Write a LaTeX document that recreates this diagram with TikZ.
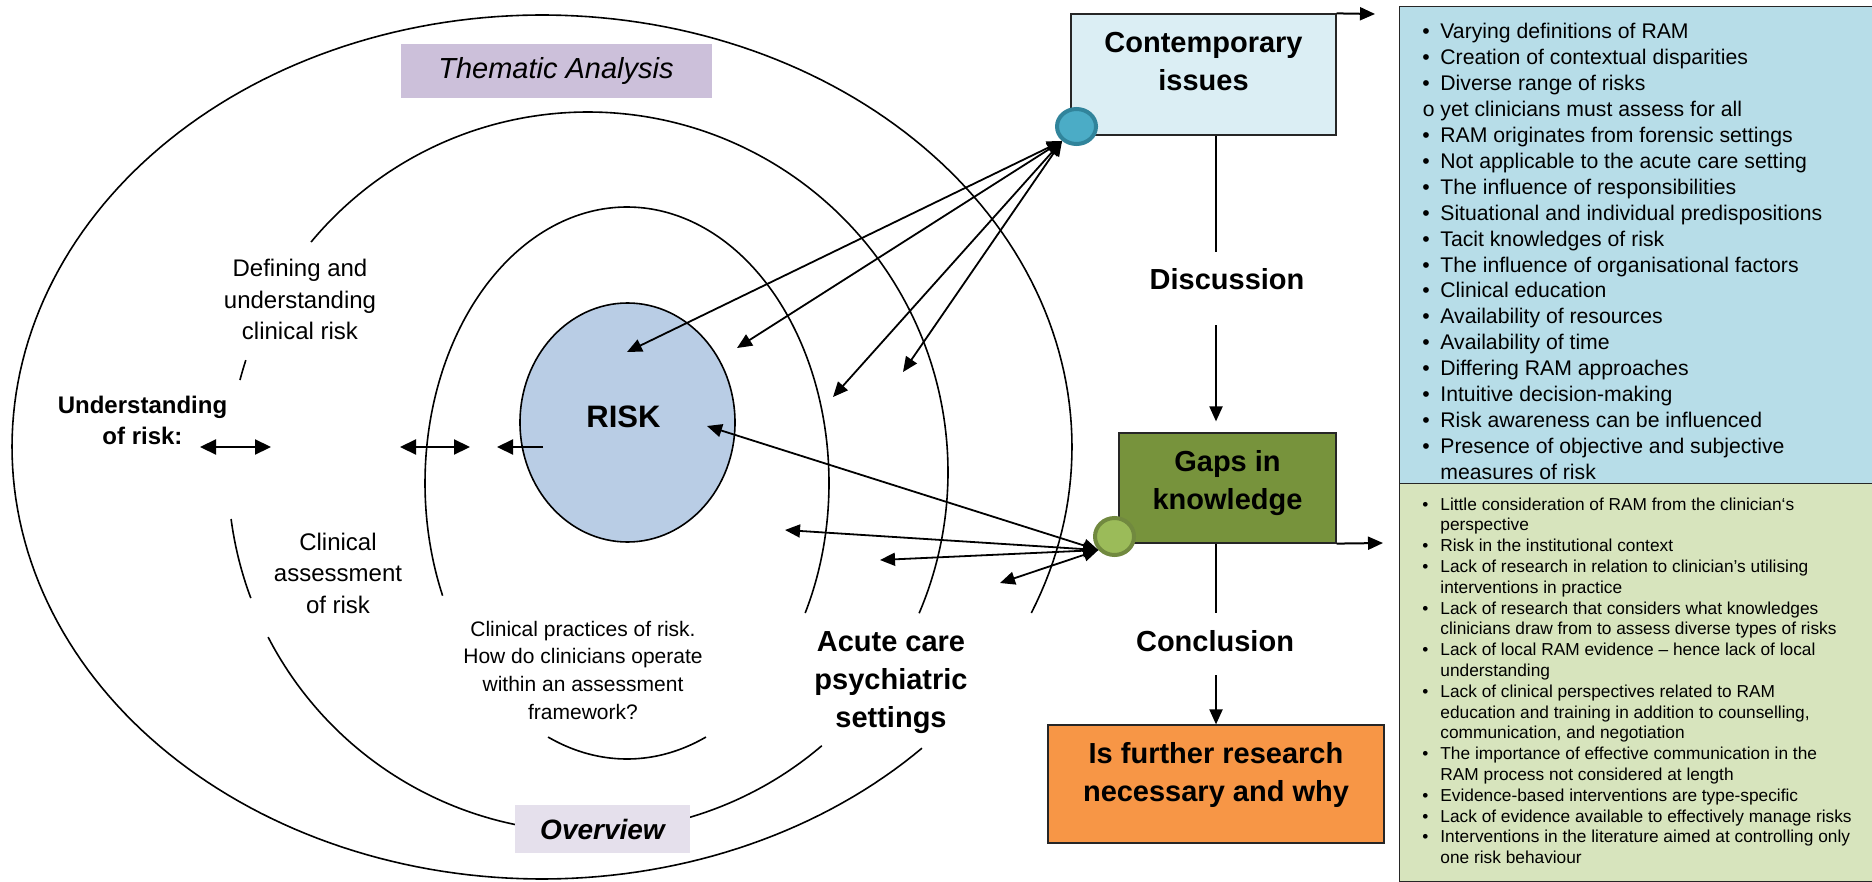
\documentclass[tikz,border=0pt]{standalone}
\usepackage{fontspec}
\setmainfont{Liberation Sans}
\newfontfamily\bulletmono{Liberation Mono}
\usetikzlibrary{arrows.meta,shapes.geometric}

\definecolor{themebg}{HTML}{CCC0DA}
\definecolor{overbg}{HTML}{E5E0EC}
\definecolor{riskfill}{HTML}{B9CDE5}
\definecolor{contbg}{HTML}{DBEEF4}
\definecolor{gapsbg}{HTML}{77933C}
\definecolor{furtherbg}{HTML}{F79646}
\definecolor{listblue}{HTML}{B7DDE8}
\definecolor{listgreen}{HTML}{D7E4BD}
\definecolor{tealfill}{HTML}{4BACC6}
\definecolor{tealline}{HTML}{31849B}
\definecolor{olivefill}{HTML}{9BBB59}
\definecolor{oliveline}{HTML}{71893F}
\definecolor{boxline}{HTML}{262626}

\newcommand{\setfs}[2]{\fontsize{#1}{#2}\selectfont}
\newcommand{\stacklines}[1]{\begin{tabular}[t]{@{}c@{}}#1\end{tabular}}
\newcommand{\leftlines}[1]{\begin{tabular}[t]{@{}l@{}}#1\end{tabular}}
\newcommand{\bitem}[1]{\makebox[9pt][l]{\textbullet}#1}
\newcommand{\bsub}[1]{\makebox[9pt][l]{\bulletmono o}#1}
\newcommand{\bcont}[1]{\hspace*{9pt}#1}

\begin{document}
\begin{tikzpicture}[x=0.5pt,y=-0.5pt,
  ring/.style={line width=0.8pt},
  >={Triangle[length=7.5pt,width=6.5pt]},
  link/.style={line width=0.9pt,<->},
  bigtips/.style={line width=1.1pt,>={Triangle[length=8pt,width=7.5pt]}},
  flow/.style={line width=1pt},
  txt/.style={inner sep=0,outer sep=0,anchor=base},
  plainlbl/.style={txt,font=\setfs{12}{15.75}},
  boldlbl/.style={txt,font=\setfs{14.5}{19}\bfseries},
  flowbox/.style={draw=boxline,line width=0.6pt,inner sep=0},
  dot/.style={ellipse,inner sep=0,line width=2pt},
  listbox/.style={draw=boxline,line width=0.6pt,inner sep=0,anchor=north west}
]
\useasboundingbox (0,0) rectangle (1872,882);
\clip (0,0) rectangle (1872,882);
\fill[white] (0,0) rectangle (1872,882);

% ---- concentric rings ----
% outer ring, opened where the setting label sits
\draw[ring] plot[domain=44.2:382.6,samples=240] ({542+530*cos(\x)},{447+432*sin(\x)});
% middle ring, broken by its labels
\draw[ring] plot[domain=219.7:383.1,samples=200] ({588+360*cos(\x)},{472+360*sin(\x)});
\draw[ring] plot[domain=49.5:152.7,samples=120] ({588+360*cos(\x)},{472+360*sin(\x)});
\draw[ring] plot[domain=159.5:172.5,samples=30] ({588+360*cos(\x)},{472+360*sin(\x)});
\draw[ring] plot[domain=194.8:198.1,samples=10] ({588+360*cos(\x)},{472+360*sin(\x)});
% inner ring
\draw[ring] plot[domain=155.9:388.1,samples=200] ({627+202*cos(\x)},{483+276*sin(\x)});
\draw[ring] plot[domain=67:113,samples=60] ({627+202*cos(\x)},{483+276*sin(\x)});

% ---- title boxes on the rings ----
\node[fill=themebg,minimum width=155.5pt,minimum height=27pt,inner sep=0,
      font=\setfs{14.5}{17}\itshape] (theme) at (556,71) {Thematic Analysis};
\node[fill=overbg,minimum width=87.5pt,minimum height=24pt,inner sep=0,
      font=\setfs{14}{17}\bfseries\itshape] (overview) at (602.5,829) {Overview};

% ---- centre ----
\node[ellipse,draw,fill=riskfill,line width=0.8pt,inner sep=0,
      minimum width=107.5pt,minimum height=119.5pt] (risk) at (627.5,422.5) {};
\node[txt,font=\setfs{15.5}{18}\bfseries] (risktxt) at (623.5,427) {RISK};

% ---- ring labels ----
\node[txt,font=\setfs{12}{15.5}\bfseries] (understand) at (142.5,413)
  {\stacklines{Understanding\\of risk:}};
\node[plainlbl] (defining) at (300,277)
  {\stacklines{Defining and\\understanding\\clinical risk}};
\node[plainlbl] (assess) at (338,550)
  {\stacklines{Clinical\\assessment\\of risk}};
\node[txt,font=\setfs{10.5}{13.85}] (practice) at (583,636)
  {\stacklines{Clinical practices of risk.\\How do clinicians operate\\within an assessment\\framework?}};
\node[boldlbl] (acute) at (891,651)
  {\stacklines{Acute care\\psychiatric\\settings}};

% ---- arrows between the ring labels ----
\coordinate (la1) at (200,447);
\coordinate (la2) at (271,447);
\coordinate (lb1) at (400,447);
\coordinate (lb2) at (470,447);
\coordinate (lc1) at (543,447);
\coordinate (lc2) at (497,447);
\draw[bigtips,<->] (la1) -- (la2);
\draw[bigtips,<->] (lb1) -- (lb2);
\draw[bigtips,->] (lc1) -- (lc2);

% ---- flow column ----
\node[flowbox,fill=contbg,minimum width=132.5pt,minimum height=60.5pt] (cbox) at (1203.5,74.5) {};
\node[boldlbl] (ctxt) at (1203.5,53) {\stacklines{Contemporary\\issues}};
\node[flowbox,fill=gapsbg,minimum width=108.5pt,minimum height=55pt] (gbox) at (1227.5,488) {};
\node[boldlbl] (gtxt) at (1227.5,471) {\stacklines{Gaps in\\knowledge}};
\node[flowbox,fill=furtherbg,minimum width=168pt,minimum height=59pt] (fbox) at (1216,784) {};
\node[boldlbl] (ftxt) at (1216,763) {\stacklines{Is further research\\necessary and why}};
\node[boldlbl] (disc) at (1227,289) {Discussion};
\node[boldlbl] (concl) at (1215,651) {Conclusion};

\coordinate (colx) at (1216,0);
\coordinate (discA) at (1216,252);
\coordinate (discB) at (1216,325);
\coordinate (concA) at (1216,613);
\coordinate (concB) at (1216,675);
\draw[flow] (cbox.south -| colx) -- (discA);
\draw[flow,->,shorten >=5.5pt] (discB) -- (gbox.north -| colx);
\draw[flow] (gbox.south -| colx) -- (concA);
\draw[flow,->] (concB) -- (fbox.north -| colx);

\coordinate (ctail) at (1375,14);
\coordinate (gtail) at (1383,543);
\draw[flow,->] (cbox.north east) -- (ctail);
\draw[flow,->] (gbox.south east) -- (gtail);

% ---- connector dots ----
\node[dot,draw=tealline,fill=tealfill,minimum width=19.5pt,minimum height=17.5pt] (ccirc) at (1076.5,126.5) {};
\node[dot,draw=oliveline,fill=olivefill,minimum width=19.5pt,minimum height=18.5pt] (gcirc) at (1114.5,536.5) {};

% ---- links from the issues dot into the rings ----
\coordinate (ca1) at (627,352);
\coordinate (ca2) at (737,348);
\coordinate (ca3) at (833,397);
\coordinate (ca4) at (903,372);
\foreach \t in {ca1,ca2,ca3,ca4} \draw[link] (\t) -- (ccirc.225);

% ---- links from the gaps dot into the rings ----
\coordinate (ga1) at (707,426);
\coordinate (ga2) at (785,530);
\coordinate (ga3) at (880,560);
\coordinate (ga4) at (1000,583);
\foreach \t in {ga1,ga2,ga3,ga4} \draw[link] (\t) -- (gcirc.220);

% ---- summary lists ----
\node[listbox,fill=listblue,minimum width=245pt,minimum height=238.25pt] (bluebox) at (1399,6) {};
\node[listbox,fill=listgreen,minimum width=245pt,minimum height=199.25pt] (greenbox) at (1399,482.5) {};

\node[inner sep=0,anchor=base west,font=\setfs{10.6}{12.95}] (bluelist) at (1422,39)
  {\leftlines{%
   \bitem{Varying definitions of RAM}\\
   \bitem{Creation of contextual disparities}\\
   \bitem{Diverse range of risks}\\
   \bsub{yet clinicians must assess for all}\\
   \bitem{RAM originates from forensic settings}\\
   \bitem{Not applicable to the acute care setting}\\
   \bitem{The influence of responsibilities}\\
   \bitem{Situational and individual predispositions}\\
   \bitem{Tacit knowledges of risk}\\
   \bitem{The influence of organisational factors}\\
   \bitem{Clinical education}\\
   \bitem{Availability of resources}\\
   \bitem{Availability of time}\\
   \bitem{Differing RAM approaches}\\
   \bitem{Intuitive decision-making}\\
   \bitem{Risk awareness can be influenced}\\
   \bitem{Presence of objective and subjective}\\
   \bcont{measures of risk}}};

\node[inner sep=0,anchor=base west,font=\setfs{8.65}{10.4}] (greenlist) at (1422,510)
  {\leftlines{%
   \bitem{Little consideration of RAM from the clinician‘s}\\
   \bcont{perspective}\\
   \bitem{Risk in the institutional context}\\
   \bitem{Lack of research in relation to clinician’s utilising}\\
   \bcont{interventions in practice}\\
   \bitem{Lack of research that considers what knowledges}\\
   \bcont{clinicians draw from to assess diverse types of risks}\\
   \bitem{Lack of local RAM evidence – hence lack of local}\\
   \bcont{understanding}\\
   \bitem{Lack of clinical perspectives related to RAM}\\
   \bcont{education and training in addition to counselling,}\\
   \bcont{communication, and negotiation}\\
   \bitem{The importance of effective communication in the}\\
   \bcont{RAM process not considered at length}\\
   \bitem{Evidence-based interventions are type-specific}\\
   \bitem{Lack of evidence available to effectively manage risks}\\
   \bitem{Interventions in the literature aimed at controlling only}\\
   \bcont{one risk behaviour}}};
\end{tikzpicture}
\end{document}
